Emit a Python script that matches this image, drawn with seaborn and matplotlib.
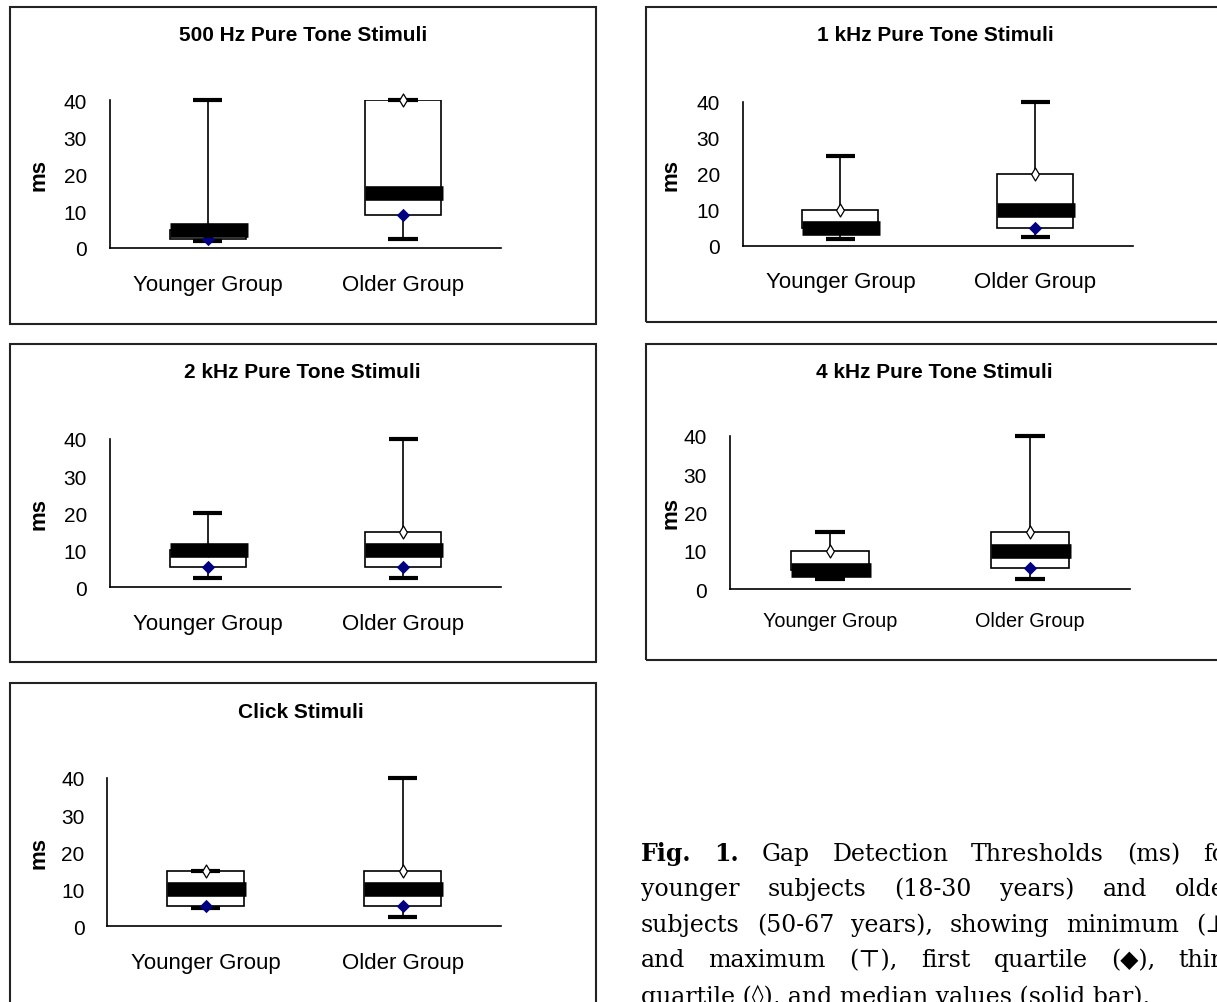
import numpy as np
import seaborn as sns
import matplotlib.pyplot as plt
from matplotlib.patches import Rectangle

# Gap detection thresholds (ms): [younger, older]
groups = ["Younger Group", "Older Group"]
stimuli = ["500 Hz Pure Tone Stimuli", "1 kHz Pure Tone Stimuli", "2 kHz Pure Tone Stimuli",
           "4 kHz Pure Tone Stimuli", "Click Stimuli"]
minimum = [[2, 2.5], [2, 2.5], [2.5, 2.5], [2.5, 2.5], [5, 2.5]]
first_q = [[2.5, 9], [5, 5], [5.5, 5.5], [5, 5.5], [5.5, 5.5]]
median = [[5, 15], [5, 10], [10, 10], [5, 10], [10, 10]]
third_q = [[5, 40], [10, 20], [10, 15], [10, 15], [15, 15]]
maximum = [[40, 40], [25, 40], [20, 40], [15, 40], [15, 40]]
y_ticks = [0, 10, 20, 30, 40]

caption_lines = [
    [("Fig.", "bold"), ("1.", "bold"), "Gap", "Detection", "Thresholds", "(ms)", "for"],
    "younger subjects (18-30 years) and older".split(),
    "subjects (50-67 years), showing minimum (\u22a5)".split(),
    "and maximum (\u22a4), first quartile (\u25c6), third".split(),
]
caption_last = "quartile (\u25ca), and median values (solid bar)."

W, H = 1217, 1003

# page layout in pixels: axes (left, right, y of 0, y of 40), frame box, title, ylabel right edge
layout = [
    dict(ax=(110, 500.7, 249, 101), frame=(9.6, 8.3, 596, 325), title=(302.7, 41), ylab=46, fs=16, pad=18.5),
    dict(ax=(743, 1132.7, 246.7, 102.7), frame=(645.7, 8.3, 1240, 322.7), title=(935, 41), ylab=678, fs=16, pad=18.5),
    dict(ax=(110, 501, 588.3, 440), frame=(9.6, 345, 596, 663.3), title=(302.7, 377.5), ylab=45.2, fs=16, pad=18.5),
    dict(ax=(730, 1129.5, 590, 436.7), frame=(645.7, 345, 1240, 660.7), title=(934, 377.5), ylab=678, fs=14.3, pad=16),
    dict(ax=(107.3, 501, 927.3, 779), frame=(9.6, 684, 596, 1010), title=(300.8, 717.5), ylab=45.2, fs=16, pad=18.5),
]

sns.set_theme(style="white", rc={"axes.edgecolor": "black", "xtick.color": "black",
                                 "ytick.color": "black", "text.color": "black",
                                 "axes.labelcolor": "black"})
plt.rcParams["font.family"] = ["Liberation Sans", "DejaVu Sans"]

fig = plt.figure(figsize=(W / 100, H / 100), dpi=100)
fig.patch.set_facecolor("white")

x = np.arange(len(groups))
for i, spec in enumerate(layout):
    left, right, y0, y40 = spec["ax"]
    ax = fig.add_axes([left / W, 1 - y0 / H, (right - left) / W, (y0 - y40) / H])
    ax.set_facecolor("none")

    # outer box around each chart
    fx0, fy0, fx1, fy1 = spec["frame"]
    fig.add_artist(Rectangle((fx0 / W, 1 - fy1 / H), (fx1 - fx0) / W, (fy1 - fy0) / H,
                             transform=fig.transFigure, fill=False, lw=1.5, ec="#222222"))

    lo, q1, med, q3, hi = (np.array(a[i], dtype=float) for a in (minimum, first_q, median, third_q, maximum))

    ax.vlines(x, lo, hi, color="black", lw=1.2, zorder=1, clip_on=False)
    ax.bar(x, q3 - q1, bottom=q1, width=0.39, facecolor="white", edgecolor="black", lw=1.2, zorder=2)
    ax.hlines(lo, x - 0.075, x + 0.075, color="black", lw=3, zorder=3, clip_on=False)
    ax.hlines(hi, x - 0.075, x + 0.075, color="black", lw=3, zorder=3, clip_on=False)
    sns.stripplot(x=groups, y=q1, ax=ax, jitter=False, marker="D", size=6.8, color="#000080",
                  linewidth=0, zorder=4, clip_on=False)
    sns.stripplot(x=groups, y=q3, ax=ax, jitter=False, marker="d", size=6.6, color="white",
                  edgecolor="black", linewidth=0.9, zorder=4, clip_on=False)
    ax.hlines(med, x - 0.195, x + 0.205, color="black", lw=10.5, capstyle="butt", zorder=5)

    ax.set_xlim(-0.5, 1.5)
    ax.set_ylim(0, 40)
    ax.set_yticks(y_ticks)
    ax.set_xticks(x, groups)
    ax.set_xticks([0.5, 1.5], minor=True)
    ax.tick_params(axis="x", which="major", length=0, pad=spec["pad"], labelsize=spec["fs"])
    ax.tick_params(axis="x", which="minor", direction="in", length=6, width=1.2)
    ax.tick_params(axis="y", direction="out", length=6, width=1.2, pad=10.5, labelsize=15)
    ax.spines[["top", "right"]].set_visible(False)
    ax.spines[["left", "bottom"]].set_linewidth(1.2)
    ax.set_xlabel("")
    ax.set_ylabel("ms", fontsize=16, fontweight="bold")
    ax.yaxis.set_label_coords((spec["ylab"] + 4 - left) / (right - left), 0.5)

    tx, ty = spec["title"]
    fig.text(tx / W, 1 - ty / H, stimuli[i], ha="center", va="baseline", fontsize=15, fontweight="bold")

# caption, justified like the printed page (it runs off the right edge there too)
cap_font = ["DejaVu Serif", "DejaVu Sans"]
cap_left, cap_right = 641, 1237
baselines = [861, 896.5, 932, 967.5, 1003.5]
renderer = fig.canvas.get_renderer()
for words, yb in zip(caption_lines, baselines):
    items = [w if isinstance(w, tuple) else (w, "normal") for w in words]
    texts = [fig.text(cap_left / W, 1 - yb / H, w, fontsize=17, family=cap_font, fontweight=wt,
                      va="baseline") for w, wt in items]
    widths = [t.get_window_extent(renderer).width for t in texts]
    gap = (cap_right - cap_left - sum(widths)) / (len(texts) - 1)
    xpos = cap_left
    for t, w in zip(texts, widths):
        t.set_x(xpos / W)
        xpos += w + gap
fig.text(cap_left / W, 1 - baselines[-1] / H, caption_last, fontsize=17, family=cap_font, va="baseline")

fig.savefig("out.png", dpi=100)
